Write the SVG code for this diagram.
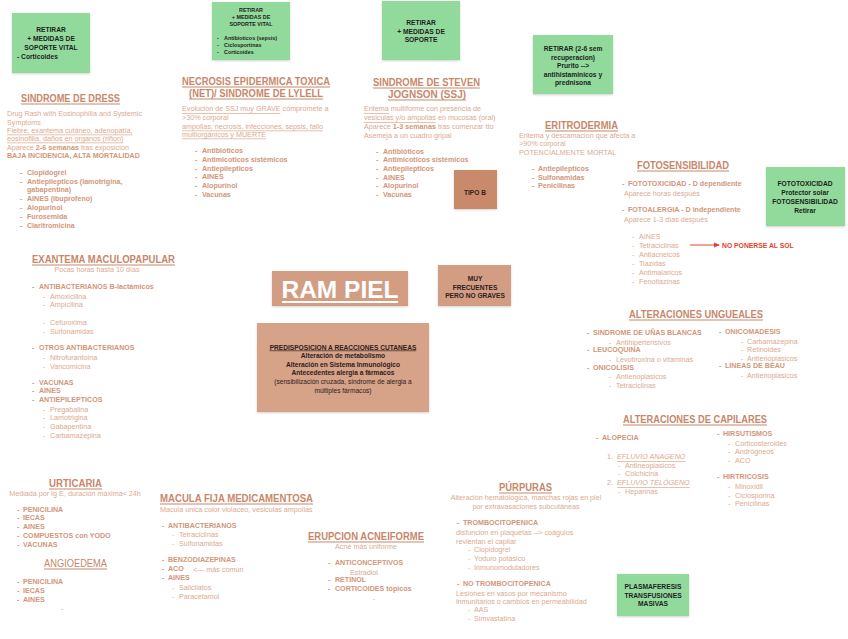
<svg xmlns="http://www.w3.org/2000/svg" width="848" height="639" viewBox="0 0 848 639">
<defs>
<style>
text{font-family:"Liberation Sans",Arial,sans-serif;dominant-baseline:central}
.h{font-size:10px;font-weight:bold;fill:#c8876a;text-decoration:underline}
.hn{font-size:10px;fill:#c8876a;text-decoration:underline}
.t{font-size:7.2px;fill:#dba98f}
.b{font-size:7.1px;font-weight:bold;fill:#d2967a}
.s{font-size:7.2px;fill:#dba98f}
.u{text-decoration:underline}
.bb{font-weight:bold}
.gbox{fill:#92da9c}
.gt{font-size:6.7px;font-weight:bold;fill:#1d1d1d;text-anchor:middle}
.gs{font-size:5.4px;font-weight:bold;fill:#1d1d1d}
.bt{font-size:6.6px;font-weight:bold;fill:#2e211b;text-anchor:middle}
.c{text-anchor:middle}
</style>
<marker id="arr" markerWidth="6" markerHeight="6" refX="5" refY="3" orient="auto" markerUnits="userSpaceOnUse"><path d="M0,0.5 L6,3 L0,5.5 Z" fill="#e5422b"/></marker>
<filter id="sh" x="-5%" y="-5%" width="110%" height="115%"><feDropShadow dx="0" dy="1" stdDeviation="0.8" flood-color="#000" flood-opacity="0.18"/></filter>
</defs>
<rect width="848" height="639" fill="#ffffff"/>

<!-- Green boxes -->
<g id="g1">
<rect class="gbox" x="12" y="13" width="78" height="60" filter="url(#sh)"/>
<text class="gt" x="51" y="29">RETIRAR</text>
<text class="gt" x="51" y="38">+ MEDIDAS DE</text>
<text class="gt" x="51" y="47">SOPORTE VITAL</text>
<text class="gt" x="17" y="56" style="text-anchor:start">-  Corticoides</text>
</g>
<g id="g2">
<rect class="gbox" x="212" y="2" width="78" height="58" filter="url(#sh)"/>
<text class="gs" x="251" y="10" style="text-anchor:middle">RETIRAR</text>
<text class="gs" x="251" y="17" style="text-anchor:middle">+ MEDIDAS DE</text>
<text class="gs" x="251" y="24" style="text-anchor:middle">SOPORTE VITAL</text>
<text class="gs"><tspan x="217" y="38">-</tspan><tspan x="217" y="45">-</tspan><tspan x="217" y="52">-</tspan></text>
<text class="gs"><tspan x="224" y="38">Antibioticos (sepsis)</tspan><tspan x="224" y="45">Ciclosportinas</tspan><tspan x="224" y="52">Corticoides</tspan></text>
</g>
<g id="g3">
<rect class="gbox" x="382" y="1" width="78" height="59" filter="url(#sh)"/>
<text class="gt" x="421" y="22">RETIRAR</text>
<text class="gt" x="421" y="31">+ MEDIDAS DE</text>
<text class="gt" x="421" y="39">SOPORTE</text>
</g>
<g id="g4">
<rect class="gbox" x="533" y="35" width="80" height="59" filter="url(#sh)"/>
<text class="gt" x="573" y="48">RETIRAR (2-6 sem</text>
<text class="gt" x="573" y="57">recuperacion)</text>
<text class="gt" x="573" y="65">Prurito --&gt;</text>
<text class="gt" x="573" y="74">antihistaminicos y</text>
<text class="gt" x="573" y="82">prednisona</text>
</g>
<g id="g5">
<rect class="gbox" x="766" y="167" width="79" height="59" filter="url(#sh)"/>
<text class="gt" x="805" y="183">FOTOTOXICIDAD</text>
<text class="gt" x="805" y="192">Protector solar</text>
<text class="gt" x="805" y="201">FOTOSENSIBILIDAD</text>
<text class="gt" x="805" y="210">Retirar</text>
</g>
<g id="g6">
<rect class="gbox" x="617" y="574" width="72" height="42" filter="url(#sh)"/>
<text class="gt" x="653" y="586">PLASMAFERESIS</text>
<text class="gt" x="653" y="595">TRANSFUSIONES</text>
<text class="gt" x="653" y="603">MASIVAS</text>
</g>

<!-- Brown boxes -->
<g id="ram-piel">
<rect x="272" y="271" width="136" height="35" fill="#d29d83" filter="url(#sh)"/>
<text x="340" y="289" style="font-size:24.5px;font-weight:bold;fill:#ffffff;text-anchor:middle">RAM PIEL</text>
<line x1="282" y1="302" x2="398" y2="302" stroke="#ffffff" stroke-width="2"/>
</g>
<g id="muy-frecuentes">
<rect x="438" y="265" width="73" height="41" fill="#d29d83" filter="url(#sh)"/>
<text class="bt" x="475" y="278">MUY</text>
<text class="bt" x="475" y="287">FRECUENTES</text>
<text class="bt" x="475" y="295">PERO NO GRAVES</text>
</g>
<g id="predisposicion">
<rect x="257" y="323" width="172" height="89" fill="#d6a288" filter="url(#sh)"/>
<text class="bt" x="343" y="347" style="text-decoration:underline">PREDISPOSICION A REACCIONES CUTANEAS</text>
<text class="bt" x="343" y="355">Alteración de metabolismo</text>
<text class="bt" x="343" y="364">Alteración en Sistema Inmunológico</text>
<text class="bt" x="343" y="372">Antecedentes alergia a fármacos</text>
<text x="343" y="381" style="font-size:6.6px;fill:#2e211b;text-anchor:middle">(sensibilización cruzada, síndrome de alergia a</text>
<text x="343" y="390" style="font-size:6.6px;fill:#2e211b;text-anchor:middle">múltiples fármacos)</text>
</g>
<g id="tipo-b">
<rect x="454" y="170" width="43" height="39" fill="#c98a6c" filter="url(#sh)"/>
<text class="bt" x="475" y="192">TIPO B</text>
</g>

<!-- DRESS -->
<g id="dress">
<text class="h" x="21" y="98" textLength="99" lengthAdjust="spacingAndGlyphs">SINDROME DE DRESS</text>
<text class="t" x="7" y="113">Drug Rash with Eosinophilia and Systemic</text>
<text class="t" x="7" y="122">Symptoms</text>
<text class="t u" x="7" y="130">Fiebre, exantema cutáneo, adenopatía,</text>
<text class="t u" x="7" y="138">eosinofilia, daños en organos (riñon)</text>
<text class="t" x="7" y="147">Aparece <tspan class="bb" fill="#d2967a">2-6 semanas</tspan> tras exposición</text>
<text class="b" x="7" y="156">BAJA INCIDENCIA, ALTA MORTALIDAD</text>
<text class="b"><tspan x="20" y="173">-</tspan><tspan x="20" y="182">-</tspan><tspan x="20" y="199">-</tspan><tspan x="20" y="208">-</tspan><tspan x="20" y="217">-</tspan><tspan x="20" y="226">-</tspan></text>
<text class="b"><tspan x="27" y="173">Clopidogrel</tspan><tspan x="27" y="182">Antiepilepticos  (lamotrigina,</tspan><tspan x="27" y="190">gabapentina)</tspan><tspan x="27" y="199">AINES  (ibuprofeno)</tspan><tspan x="27" y="208">Alopurinol</tspan><tspan x="27" y="217">Furosemida</tspan><tspan x="27" y="226">Claritromicina</tspan></text>
</g>

<!-- NET -->
<g id="net">
<text class="h" x="182" y="81" textLength="148" lengthAdjust="spacingAndGlyphs">NECROSIS EPIDERMICA TOXICA</text>
<text class="h" x="189" y="93" textLength="134" lengthAdjust="spacingAndGlyphs">(NET)/ SINDROME DE LYLELL</text>
<text class="t" x="182" y="108"><tspan class="u">Evolución de SSJ muy GRAVE</tspan> cómpromete a</text>
<text class="t" x="182" y="117">&gt;30% corporal</text>
<text class="t u" x="182" y="126">ampollas, necrosis, infecciones, sepsis, fallo</text>
<text class="t u" x="182" y="134">multiorgánicos y MUERTE</text>
<text class="b"><tspan x="195" y="151">-</tspan><tspan x="195" y="160">-</tspan><tspan x="195" y="169">-</tspan><tspan x="195" y="177">-</tspan><tspan x="195" y="186">-</tspan><tspan x="195" y="195">-</tspan></text>
<text class="b"><tspan x="202" y="151">Antibióticos</tspan><tspan x="202" y="160">Antimicoticos sistémicos</tspan><tspan x="202" y="169">Antiepilepticos</tspan><tspan x="202" y="177">AINES</tspan><tspan x="202" y="186">Alopurinol</tspan><tspan x="202" y="195">Vacunas</tspan></text>
</g>

<!-- SSJ -->
<g id="ssj">
<text class="h" x="373" y="82" textLength="107" lengthAdjust="spacingAndGlyphs">SINDROME DE STEVEN</text>
<text class="h" x="388" y="94" textLength="78" lengthAdjust="spacingAndGlyphs">JOGNSON (SSJ)</text>
<text class="t" x="364" y="108"><tspan class="u">Eritema</tspan> multiforme con presencia de</text>
<text class="t" x="364" y="117"><tspan class="u">vesiculas y/o ampollas</tspan> en mucosas (oral)</text>
<text class="t" x="364" y="126">Aparece <tspan class="bb" fill="#d2967a">1-3 semanas</tspan> tras comenzar tto</text>
<text class="t" x="364" y="135">Asemeja a un cuadro gripal</text>
<text class="b"><tspan x="376" y="152">-</tspan><tspan x="376" y="160">-</tspan><tspan x="376" y="169">-</tspan><tspan x="376" y="178">-</tspan><tspan x="376" y="186">-</tspan><tspan x="376" y="195">-</tspan></text>
<text class="b"><tspan x="383" y="152">Antibióticos</tspan><tspan x="383" y="160">Antimicoticos sistémicos</tspan><tspan x="383" y="169">Antiepilepticos</tspan><tspan x="383" y="178">AINES</tspan><tspan x="383" y="186">Alopurinol</tspan><tspan x="383" y="195">Vacunas</tspan></text>
</g>

<!-- ERITRODERMIA -->
<g id="eritrodermia">
<text class="h" x="545" y="125" textLength="73" lengthAdjust="spacingAndGlyphs">ERITRODERMIA</text>
<text class="t" x="519" y="135">Eritema y descamacion que afecta a</text>
<text class="t" x="519" y="143">&gt;90% corporal</text>
<text class="t" x="519" y="152">POTENCIALMENTE MORTAL</text>
<text class="b"><tspan x="532" y="169">-</tspan><tspan x="532" y="178">-</tspan><tspan x="532" y="186">-</tspan></text>
<text class="b"><tspan x="538" y="169">Antiepilepticos</tspan><tspan x="538" y="178">Sulfonamidas</tspan><tspan x="538" y="186">Penicilinas</tspan></text>
</g>

<!-- FOTOSENSIBILIDAD -->
<g id="fotosensibilidad">
<text class="h" x="637" y="165" textLength="92" lengthAdjust="spacingAndGlyphs">FOTOSENSIBILIDAD</text>
<text class="b"><tspan x="622" y="184">-</tspan><tspan x="622" y="210">-</tspan></text>
<text class="b"><tspan x="628" y="184">FOTOTOXICIDAD - D dependiente</tspan><tspan x="628" y="210">FOTOALERGIA - D independiente</tspan></text>
<text class="t"><tspan x="624" y="193">Aparece horas después</tspan><tspan x="624" y="219">Aparece 1-3 días después</tspan></text>
<text class="s"><tspan x="632" y="236">-</tspan><tspan x="632" y="245">-</tspan><tspan x="632" y="254">-</tspan><tspan x="632" y="263">-</tspan><tspan x="632" y="272">-</tspan><tspan x="632" y="281">-</tspan></text>
<text class="s"><tspan x="639" y="236">AINES</tspan><tspan x="639" y="245">Tetraciclinas</tspan><tspan x="639" y="254">Antiacneicos</tspan><tspan x="639" y="263">Tiazidas</tspan><tspan x="639" y="272">Antimalaricos</tspan><tspan x="639" y="281">Fenotiazinas</tspan></text>
</g>
<g id="no-sol">
<text x="722" y="245" style="font-size:6.8px;font-weight:bold;fill:#e5422b">NO PONERSE AL SOL</text>
</g>

<!-- EXANTEMA -->
<g id="exantema">
<text class="h" x="32" y="259" textLength="143" lengthAdjust="spacingAndGlyphs">EXANTEMA MACULOPAPULAR</text>
<text class="t" x="97" y="269" style="text-anchor:middle">Pocas horas hasta 10 días</text>
<text class="b"><tspan x="32" y="287">-</tspan><tspan x="32" y="348">-</tspan><tspan x="32" y="383">-</tspan><tspan x="32" y="391">-</tspan><tspan x="32" y="400">-</tspan></text>
<text class="b"><tspan x="39" y="287">ANTIBACTERIANOS B-lactámicos</tspan><tspan x="39" y="348">OTROS ANTIBACTERIANOS</tspan><tspan x="39" y="383">VACUNAS</tspan><tspan x="39" y="391">AINES</tspan><tspan x="39" y="400">ANTIEPILEPTICOS</tspan></text>
<text class="s"><tspan x="43" y="296">-</tspan><tspan x="43" y="304">-</tspan><tspan x="43" y="322">-</tspan><tspan x="43" y="331">-</tspan><tspan x="43" y="357">-</tspan><tspan x="43" y="366">-</tspan><tspan x="43" y="409">-</tspan><tspan x="43" y="417">-</tspan><tspan x="43" y="426">-</tspan><tspan x="43" y="435">-</tspan></text>
<text class="s"><tspan x="50" y="296">Amoxicilina</tspan><tspan x="50" y="304">Ampicilina</tspan><tspan x="50" y="322">Cefuroxima</tspan><tspan x="50" y="331">Sulfonamidas</tspan><tspan x="50" y="357">Nitrofurantoina</tspan><tspan x="50" y="366">Vancomicina</tspan><tspan x="50" y="409">Pregabalina</tspan><tspan x="50" y="417">Lamotrigina</tspan><tspan x="50" y="426">Gabapentina</tspan><tspan x="50" y="435">Carbamazepina</tspan></text>
</g>

<!-- UNGUEALES -->
<g id="ungueales">
<text class="h" x="629" y="314" textLength="134" lengthAdjust="spacingAndGlyphs">ALTERACIONES UNGUEALES</text>
<text class="b"><tspan x="587" y="333">-</tspan><tspan x="587" y="350">-</tspan><tspan x="587" y="368">-</tspan><tspan x="719" y="332">-</tspan><tspan x="719" y="366">-</tspan></text>
<text class="b"><tspan x="593" y="333">SINDROME DE UÑAS BLANCAS</tspan><tspan x="593" y="350">LEUCOQUINA</tspan><tspan x="593" y="368">ONICOLISIS</tspan><tspan x="725" y="332">ONICOMADESIS</tspan><tspan x="725" y="366">LINEAS DE BEAU</tspan></text>
<text class="s"><tspan x="609" y="342">-</tspan><tspan x="609" y="359">-</tspan><tspan x="609" y="376">-</tspan><tspan x="609" y="385">-</tspan><tspan x="741" y="341">-</tspan><tspan x="741" y="349">-</tspan><tspan x="741" y="358">-</tspan><tspan x="741" y="375">-</tspan></text>
<text class="s"><tspan x="616" y="342">Antihipertensivos</tspan><tspan x="616" y="359">Levotiroxina o vitaminas</tspan><tspan x="616" y="376">Antienoplasicos</tspan><tspan x="616" y="385">Tetraciclinas</tspan><tspan x="747" y="341">Carbamazepina</tspan><tspan x="747" y="349">Retinoides</tspan><tspan x="747" y="358">Antienoplasicos</tspan><tspan x="747" y="375">Antienoplasicos</tspan></text>
</g>

<!-- CAPILARES -->
<g id="capilares">
<text class="h" x="623" y="419" textLength="144" lengthAdjust="spacingAndGlyphs">ALTERACIONES DE CAPILARES</text>
<text class="b"><tspan x="596" y="438">-</tspan><tspan x="717" y="434">-</tspan><tspan x="717" y="477">-</tspan></text>
<text class="b"><tspan x="602" y="438">ALOPECIA</tspan><tspan x="723" y="434">HIRSUTISMOS</tspan><tspan x="723" y="477">HIRTRICOSIS</tspan></text>
<text class="s"><tspan x="607" y="456">1.</tspan><tspan x="607" y="482">2.</tspan></text>
<text class="s u" style="font-style:italic"><tspan x="617" y="456">EFLUVIO ANAGENO</tspan><tspan x="617" y="482">EFLUVIO TELÓGENO</tspan></text>
<text class="s"><tspan x="618" y="465">-</tspan><tspan x="618" y="473">-</tspan><tspan x="618" y="491">-</tspan><tspan x="728" y="443">-</tspan><tspan x="728" y="451">-</tspan><tspan x="728" y="460">-</tspan><tspan x="728" y="486">-</tspan><tspan x="728" y="495">-</tspan><tspan x="728" y="503">-</tspan></text>
<text class="s"><tspan x="625" y="465">Antineoplasicos</tspan><tspan x="625" y="473">Colchicina</tspan><tspan x="625" y="491">Heparinas</tspan><tspan x="735" y="443">Corticosteroides</tspan><tspan x="735" y="451">Andrógneos</tspan><tspan x="735" y="460">ACO</tspan><tspan x="735" y="486">Minoxidil</tspan><tspan x="735" y="495">Ciclosporina</tspan><tspan x="735" y="503">Penicilinas</tspan></text>
</g>

<!-- URTICARIA / ANGIOEDEMA -->
<g id="urticaria">
<text class="h" x="49" y="483" textLength="53" lengthAdjust="spacingAndGlyphs">URTICARIA</text>
<text class="t" x="75" y="493" style="text-anchor:middle">Mediada por Ig E, duración máxima&lt; 24h</text>
<text class="b"><tspan x="17" y="510">-</tspan><tspan x="17" y="518">-</tspan><tspan x="17" y="527">-</tspan><tspan x="17" y="536">-</tspan><tspan x="17" y="545">-</tspan></text>
<text class="b"><tspan x="23" y="510">PENICILINA</tspan><tspan x="23" y="518">IECAS</tspan><tspan x="23" y="527">AINES</tspan><tspan x="23" y="536">COMPUESTOS con YODO</tspan><tspan x="23" y="545">VACUNAS</tspan></text>
</g>
<g id="angioedema">
<text class="hn" x="44" y="563" textLength="63" lengthAdjust="spacingAndGlyphs">ANGIOEDEMA</text>
<text class="b"><tspan x="17" y="582">-</tspan><tspan x="17" y="591">-</tspan><tspan x="17" y="600">-</tspan></text>
<text class="b"><tspan x="23" y="582">PENICILINA</tspan><tspan x="23" y="591">IECAS</tspan><tspan x="23" y="600">AINES</tspan></text>
<text class="s" x="61" y="608">-</text>
</g>

<!-- MACULA FIJA -->
<g id="macula">
<text class="h" x="160" y="498" textLength="153" lengthAdjust="spacingAndGlyphs">MACULA FIJA MEDICAMENTOSA</text>
<text class="t" x="160" y="509">Macula unica color violaceo, vesiculas ampollas</text>
<text class="b"><tspan x="162" y="526">-</tspan><tspan x="162" y="560">-</tspan><tspan x="162" y="569">-</tspan><tspan x="162" y="578">-</tspan></text>
<text class="b"><tspan x="168" y="526">ANTIBACTERIANOS</tspan><tspan x="168" y="560">BENZODIAZEPINAS</tspan><tspan x="168" y="569">ACO</tspan><tspan x="168" y="578">AINES</tspan></text>
<text class="s" x="193" y="569">&lt;--- más común</text>
<text class="s"><tspan x="172" y="534">-</tspan><tspan x="172" y="543">-</tspan><tspan x="172" y="587">-</tspan><tspan x="172" y="596">-</tspan></text>
<text class="s"><tspan x="179" y="534">Tetraciclinas</tspan><tspan x="179" y="543">Sulfonamidas</tspan><tspan x="179" y="587">Salicilatos</tspan><tspan x="179" y="596">Paracetamol</tspan></text>
</g>

<!-- ERUPCION ACNEIFORME -->
<g id="acneiforme">
<text class="h" x="308" y="536" textLength="116" lengthAdjust="spacingAndGlyphs">ERUPCION ACNEIFORME</text>
<text class="t" x="366" y="546" style="text-anchor:middle">Acné más uniforme</text>
<text class="b"><tspan x="328" y="563">-</tspan><tspan x="328" y="580">-</tspan><tspan x="328" y="589">-</tspan></text>
<text class="b"><tspan x="335" y="563">ANTICONCEPTIVOS</tspan><tspan x="335" y="580">RETINOL</tspan><tspan x="335" y="589">CORTICOIDES tópicos</tspan></text>
<text class="s" x="350" y="572">Estradiol</text>
<text class="s" x="373" y="598">-</text>
</g>

<!-- PURPURAS -->
<g id="purpuras">
<text class="h" x="499" y="487" textLength="53" lengthAdjust="spacingAndGlyphs">PÚRPURAS</text>
<text class="t" x="526" y="497" style="text-anchor:middle">Alteración hematológica, manchas rojas en piel</text>
<text class="t" x="526" y="506" style="text-anchor:middle">por extravasaciones subcutáneas</text>
<text class="b"><tspan x="457" y="523">-</tspan><tspan x="457" y="584">-</tspan></text>
<text class="b"><tspan x="463" y="523">TROMBOCITOPENICA</tspan><tspan x="463" y="584">NO TROMBOCITOPENICA</tspan></text>
<text class="t"><tspan x="456" y="532">disfuncion en plaquetas --&gt; coágulos</tspan><tspan x="456" y="541">revientan el capilar</tspan><tspan x="456" y="593">Lesiones en vasos por mecanismo</tspan><tspan x="456" y="601">inmunitarios o cambios en permeabilidad</tspan></text>
<text class="s"><tspan x="468" y="549">-</tspan><tspan x="468" y="558">-</tspan><tspan x="468" y="567">-</tspan><tspan x="468" y="609">-</tspan><tspan x="468" y="618">-</tspan></text>
<text class="s"><tspan x="474" y="549">Clopidogrel</tspan><tspan x="474" y="558">Yoduro potásico</tspan><tspan x="474" y="567">Inmunomoduladores</tspan><tspan x="474" y="609">AAS</tspan><tspan x="474" y="618">Simvastatina</tspan></text>
</g>

<g id="connectors">
<line x1="690" y1="245" x2="719" y2="245" stroke="#e5422b" stroke-width="1" marker-end="url(#arr)"/>
</g>
</svg>
